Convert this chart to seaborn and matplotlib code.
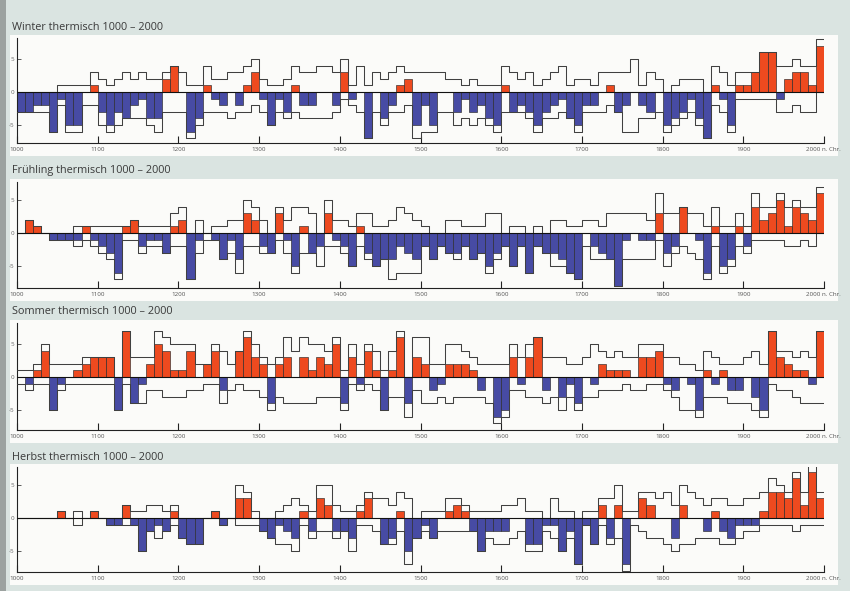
import numpy as np
import pandas as pd
import matplotlib
matplotlib.use("Agg")
import matplotlib.pyplot as plt
from matplotlib.patches import Rectangle
from matplotlib.transforms import ScaledTranslation
import seaborn as sns

# Jahrzehnte 1000-1990 (Balken von d bis d+10)
decades = list(range(1000, 2000, 10))

# Winter: Index pro Jahrzehnt + obere/untere Huellkurve
winter_bars = [-3, -3, -2, -2, -6, -1, -5, -5, 0, 1,
               -3, -5, -3, -4, -2, -1, -4, -4, 2, 4,
               0, -6, -4, 1, -1, -2, 0, -2, 1, 3,
               -1, -5, -1, -3, 1, -2, -2, 0, 0, -2,
               3, -1, 0, -7, 0, -4, -2, 1, 2, -5,
               -2, -5, 0, 0, -3, -1, -3, -2, -4, -5,
               1, -3, -2, -3, -5, -3, -2, -1, -4, -5,
               -2, -2, 0, 1, -3, -2, 0, -2, -3, 0,
               -5, -4, -3, -1, -4, -7, 1, -1, -5, 1,
               1, 3, 6, 6, -1, 2, 3, 3, 1, 7]
winter_upper = [0, 0, 0, 0, 0, 1, 1, 1, 1, 3,
                2, 1, 2, 3, 2, 3, 2, 2, 3, 4,
                3, 1, 1, 4, 2, 2, 3, 3, 4, 5,
                2, 1, 1, 2, 4, 3, 3, 4, 4, 3,
                5, 1, 4, 1, 3, 2, 3, 4, 3, 3,
                3, 3, 3, 2, 2, 1, 2, 1, 1, 1,
                4, 3, 2, 3, 1, 2, 3, 4, 1, 2,
                2, 1, 3, 3, 3, 3, 5, 1, 3, 2,
                0, 1, 2, 2, 2, 0, 4, 3, 1, 3,
                3, 3, 6, 6, 4, 4, 5, 4, 4, 8]
winter_lower = [-3, -3, -3, -3, -6, -2, -6, -6, -2, -2,
                -5, -6, -5, -4, -4, -4, -5, -6, -3, -3,
                -3, -7, -5, -3, -3, -3, -4, -3, -3, -2,
                -3, -5, -3, -4, -3, -4, -4, -4, -4, -3,
                -1, -2, -3, -7, -3, -5, -3, -3, -2, -7,
                -6, -6, -3, -3, -5, -4, -5, -4, -5, -6,
                -3, -3, -3, -4, -6, -4, -4, -3, -4, -6,
                -3, -3, -3, -2, -3, -6, -6, -4, -4, -3,
                -6, -5, -4, -3, -5, -7, -2, -3, -6, -1,
                -1, -1, -1, -1, -3, -3, -2, -3, -3, 0]

spring_bars = [0, 2, 1, 0, -1, -1, -1, -1, 1, -1,
               -2, -3, -6, 1, 2, -2, -1, -1, -3, 1,
               2, -7, -1, 0, -1, -4, -1, -4, 3, 2,
               -2, -3, 3, -1, -5, 1, -3, -2, 3, -1,
               -2, -5, 1, -3, -5, -4, -4, -2, -3, -4,
               -2, -4, -2, -3, -3, -2, -4, -3, -5, -3,
               -2, -5, -2, -6, -2, -3, -3, -4, -6, -7,
               0, -2, -3, -4, -8, -1, 0, -1, -1, 3,
               -3, -2, 4, 0, -1, -6, 1, -5, -4, 1,
               -2, 4, 2, 3, 5, 1, 4, 3, 2, 6]
spring_upper = [0, 2, 1, 0, 0, 0, 0, 1, 1, 1,
                1, 1, 1, 1, 2, 1, 1, 1, 1, 3,
                4, 0, 2, 0, 1, 1, 2, 2, 5, 4,
                2, 0, 4, 2, 4, 4, 3, 0, 5, 2,
                2, 1, 3, 3, 1, 1, 2, 4, 3, 2,
                1, 0, 0, 2, 2, 1, 1, 1, 3, 3,
                0, 1, 1, 0, 1, 0, 2, 2, 1, 1,
                2, 2, 1, 3, 3, 3, 3, 3, 2, 6,
                3, 3, 4, 3, 3, 1, 4, 1, 1, 3,
                1, 6, 4, 4, 6, 4, 5, 4, 4, 7]
spring_lower = [0, 0, 0, 0, -1, -1, -1, -2, -1, -2,
                -3, -4, -7, -1, -1, -3, -2, -2, -3, -2,
                -2, -7, -3, -1, -1, -4, -3, -6, -2, -2,
                -3, -3, -1, -3, -6, -3, -3, -5, -2, -2,
                -3, -5, -2, -4, -5, -4, -7, -6, -6, -6,
                -2, -4, -2, -3, -4, -2, -4, -3, -6, -4,
                -2, -5, -2, -6, -2, -3, -5, -5, -6, -7,
                -2, -4, -4, -4, -8, -4, -4, -4, -4, -1,
                -5, -3, -2, -3, -4, -7, -2, -6, -5, -2,
                -3, -1, -1, -1, -1, -2, -2, -1, -2, 0]

summer_bars = [0, -1, 1, 4, -5, -1, 0, 1, 2, 3,
               3, 3, -5, 7, -4, -1, 2, 5, 4, 1,
               1, 4, 0, 2, 4, -2, 0, 4, 6, 3,
               2, -4, 2, 3, 0, 3, 1, 3, 2, 5,
               -4, 3, -1, 4, 1, -5, 1, 6, -4, 3,
               2, -2, -1, 2, 2, 2, 1, -2, 0, -6,
               -5, 3, -1, 3, 6, -2, 0, -3, -1, -4,
               0, -1, 2, 1, 1, 1, 0, 3, 3, 4,
               -1, -2, 0, -1, -5, 1, -1, 1, -2, -2,
               0, -3, -5, 7, 3, 2, 1, 1, -1, 7]
summer_upper = [1, 1, 2, 5, 2, 2, 2, 2, 3, 3,
                3, 3, 0, 7, 3, 3, 3, 7, 6, 5,
                5, 5, 2, 2, 5, 4, 2, 4, 7, 5,
                3, 2, 3, 6, 4, 6, 5, 5, 4, 6,
                1, 5, 2, 5, 4, 1, 4, 7, 0, 6,
                6, 2, 2, 5, 5, 4, 3, 2, 2, 2,
                2, 5, 3, 5, 6, 3, 3, 3, 2, 2,
                3, 5, 4, 3, 4, 3, 3, 5, 5, 5,
                3, 3, 2, 2, 1, 4, 3, 2, 2, 2,
                3, 4, 2, 7, 4, 4, 3, 4, 3, 7]
summer_lower = [-1, -2, -1, -1, -5, -2, -1, -1, -1, -1,
                -1, -1, -5, -1, -4, -4, -2, -2, -3, -3,
                -3, -2, -2, -1, -1, -4, -2, -1, -2, -2,
                -3, -5, -3, -4, -4, -4, -4, -3, -3, -3,
                -5, -1, -2, -1, -2, -5, -3, -3, -6, -2,
                -4, -4, -3, -4, -3, -3, -3, -3, -4, -7,
                -6, -2, -2, -3, -3, -4, -3, -5, -3, -5,
                -3, -3, -2, -2, -2, -1, -2, -2, -1, -1,
                -2, -3, -5, -5, -6, -3, -3, -3, -4, -4,
                -4, -5, -6, -1, -2, -2, -3, -4, -4, -4]

autumn_bars = [0, 0, 0, 0, 0, 1, 0, 0, 0, 1,
               0, -1, -1, 2, -1, -5, -2, -1, -2, 1,
               -3, -4, -4, 0, 1, -1, 0, 3, 3, 0,
               -2, -3, -1, -2, -3, 1, -2, 3, 2, -2,
               -2, -3, 1, 3, 0, -4, -3, 1, -5, -3,
               -1, -3, 0, 1, 2, 1, -2, -5, -2, -2,
               -2, 0, 0, -4, -4, -1, -1, -5, -2, -7,
               -1, -4, 2, -3, 2, -7, 0, 3, 2, 0,
               0, -3, 2, 0, 0, -2, 1, -2, -3, -1,
               -1, -1, 1, 4, 4, 3, 6, 2, 7, 3]
autumn_upper = [0, 0, 0, 0, 0, 1, 0, 1, 0, 1,
                0, 0, 0, 2, 1, 1, 2, 2, 1, 2,
                0, 0, 0, 0, 1, 0, 0, 5, 4, 1,
                0, 0, 1, 2, 3, 2, 1, 5, 5, 2,
                1, 1, 2, 4, 3, 3, 2, 4, 3, 0,
                1, 1, 1, 3, 3, 2, 1, 1, 1, 1,
                2, 2, 3, 1, 1, 0, 3, 1, 1, 0,
                1, 1, 3, 3, 5, 1, 1, 4, 4, 3,
                4, 2, 5, 4, 3, 2, 3, 3, 2, 2,
                3, 3, 4, 6, 5, 4, 7, 4, 8, 4]
autumn_lower = [0, 0, 0, 0, 0, 0, 0, -1, 0, 0,
                0, -1, -1, -1, -1, -5, -2, -3, -2, -1,
                -3, -4, -4, 0, 0, -1, 0, -1, -1, -1,
                -2, -3, -4, -4, -5, -1, -3, -2, -2, -3,
                -2, -5, -1, -1, -2, -4, -4, -2, -7, -3,
                -2, -3, -2, -2, -2, -2, -2, -5, -3, -4,
                -4, -3, -2, -5, -5, -2, -3, -5, -3, -7,
                -1, -4, -1, -4, -3, -8, -1, -2, -3, -3,
                -4, -5, -4, -4, -3, -3, -3, -4, -4, -3,
                -2, -2, -1, -1, -1, -1, -2, -1, -1, -1]

titles = ["Winter thermisch 1000 – 2000", "Frühling thermisch 1000 – 2000",
          "Sommer thermisch 1000 – 2000", "Herbst thermisch 1000 – 2000"]
xtick_years = list(range(1000, 2001, 100))
xtick_labels = [str(y) for y in xtick_years[:-1]] + ["2000 n. Chr."]

sns.set_style("white")
plt.rcParams['font.family'] = ['Open Sans', 'DejaVu Sans']

W, H = 850, 591
page = '#dae4e1'
red = '#ee4a1f'
blue = '#474ba4'
fig = plt.figure(figsize=(W / 100, H / 100), dpi=100, facecolor=page)

# Schatten vom Buchfalz links
fig.patches.append(Rectangle((0, 0), 6 / W, 1, transform=fig.transFigure,
                             facecolor='#9ca2a0', edgecolor='none', zorder=-2))

# (titel y, oben, unten, nulllinie) in Pixel
layout = [(27, 38, 143, 92), (170, 182, 288, 233),
          (312, 323, 430, 377), (458, 467, 572, 518)]
series = [(winter_bars, winter_upper, winter_lower),
          (spring_bars, spring_upper, spring_lower),
          (summer_bars, summer_upper, summer_lower),
          (autumn_bars, autumn_upper, autumn_lower)]
unit = 6.6
x0, x1 = 17, 824

for title, (ty, top, bot, zero), (bars, upper, lower) in zip(titles, layout, series):
    # weisser Hintergrund des Diagramms
    fig.patches.append(Rectangle((10 / W, 1 - (bot + 13) / H), (838 - 10) / W,
                                 (bot + 13 - top + 3) / H, transform=fig.transFigure,
                                 facecolor='#fbfbf9', edgecolor='none', zorder=-1))
    fig.text(12 / W, 1 - ty / H, title, fontsize=7.8, color='#3a3a3a', va='center')

    ax = fig.add_axes([x0 / W, 1 - bot / H, (x1 - x0) / W, (bot - top) / H])
    ax.set_facecolor('none')

    df = pd.DataFrame({'decade': decades, 'value': bars})
    colors = [red if v > 0 else blue for v in df['value']]
    ax.bar(df['decade'], df['value'], width=10, align='edge', color=colors,
           edgecolor='#2a2a2a', linewidth=0.45, zorder=2)

    # Huellkurven als Treppen
    env = pd.DataFrame({'year': decades + [2000],
                        'upper': upper + [upper[-1]],
                        'lower': lower + [lower[-1]]})
    sns.lineplot(data=env, x='year', y='upper', drawstyle='steps-post',
                 color='#404040', linewidth=0.75, ax=ax, zorder=3)
    sns.lineplot(data=env, x='year', y='lower', drawstyle='steps-post',
                 color='#404040', linewidth=0.75, ax=ax, zorder=3)
    ax.axhline(0, color='#111111', linewidth=0.8, zorder=4)

    ax.set_xlim(1000, 2000)
    ax.set_ylim(-(bot - zero) / unit, (zero - top) / unit)
    ax.set_xlabel('')
    ax.set_ylabel('')
    ax.set_xticks(xtick_years)
    ax.set_xticklabels(xtick_labels)
    ax.set_yticks([-5, 0, 5])
    ax.set_yticklabels(['-5', '0', '5'])
    ax.tick_params(axis='x', direction='in', length=5, width=0.8, pad=3,
                   labelsize=4.5, labelcolor='#555555', color='#222222', bottom=True)
    ax.tick_params(axis='y', direction='in', length=3, width=0.6, pad=2,
                   labelsize=4.5, labelcolor='#666666', color='#444444', left=True)
    last = ax.get_xticklabels()[-1]
    last.set_horizontalalignment('left')
    last.set_transform(last.get_transform() + ScaledTranslation(-18 / 100, 0, fig.dpi_scale_trans))
    for s in ['top', 'right']:
        ax.spines[s].set_visible(False)
    for s in ['left', 'bottom']:
        ax.spines[s].set_color('#222222')
        ax.spines[s].set_linewidth(0.8)

fig.savefig('out.png', dpi=100, facecolor=page)
